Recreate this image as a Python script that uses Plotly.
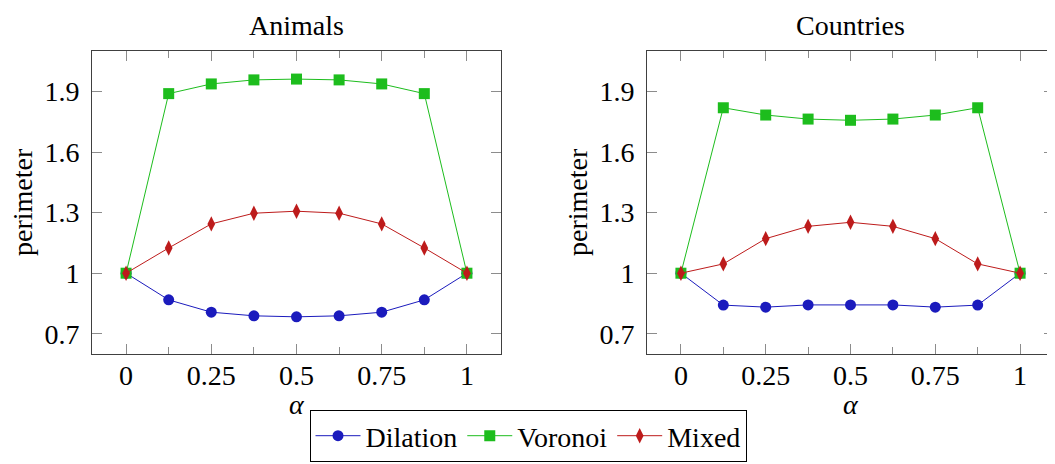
import plotly.graph_objects as go

alpha = [0, 0.125, 0.25, 0.375, 0.5, 0.625, 0.75, 0.875, 1]

animals_dilation = [1.0, 0.868, 0.807, 0.789, 0.784, 0.789, 0.807, 0.868, 1.0]
animals_voronoi = [1.0, 1.889, 1.937, 1.957, 1.961, 1.957, 1.937, 1.889, 1.0]
animals_mixed = [1.0, 1.125, 1.244, 1.297, 1.307, 1.297, 1.244, 1.125, 1.0]

countries_dilation = [1.0, 0.842, 0.832, 0.843, 0.843, 0.843, 0.832, 0.842, 1.0]
countries_voronoi = [1.0, 1.819, 1.783, 1.763, 1.757, 1.763, 1.783, 1.819, 1.0]
countries_mixed = [1.0, 1.046, 1.171, 1.232, 1.252, 1.232, 1.171, 1.046, 1.0]

x_ticks = [0, 0.25, 0.5, 0.75, 1]
x_tick_labels = ["0", "0.25", "0.5", "0.75", "1"]
y_ticks = [0.7, 1.0, 1.3, 1.6, 1.9]
y_tick_labels = ["0.7", "1", "1.3", "1.6", "1.9"]

panel_titles = ["Animals", "Countries"]
series_names = ["Dilation", "Voronoi", "Mixed"]

BLUE = "#1b1bbd"
GREEN = "#1dbd1d"
RED = "#bd1b1b"
FONT = "Liberation Serif, Times New Roman, serif"
FS = 28

# page body has an 8px margin; the figure is placed at (8, 8)
OFF = 8
W, H = 1055 - OFF, 464 - OFF

fig = go.Figure()

styles = [
    dict(color=BLUE, symbol="circle", size=11),
    dict(color=GREEN, symbol="square", size=11),
    dict(color=RED, symbol="diamond-tall", size=11),
]

panels = [
    (animals_dilation, animals_voronoi, animals_mixed),
    (countries_dilation, countries_voronoi, countries_mixed),
]

for pi, series in enumerate(panels):
    xa = "x" if pi == 0 else "x2"
    ya = "y" if pi == 0 else "y2"
    for si, vals in enumerate(series):
        st = styles[si]
        fig.add_trace(go.Scatter(
            x=alpha, y=vals, mode="lines+markers",
            name=series_names[si],
            showlegend=(pi == 0),
            line=dict(color=st["color"], width=1),
            marker=dict(color=st["color"], symbol=st["symbol"], size=st["size"],
                        line=dict(width=0)),
            xaxis=xa, yaxis=ya,
        ))

def px_x(p):
    return (p - OFF) / W

def px_y(p):
    return 1 - (p - OFF) / H

x_domains = [[px_x(92), px_x(501)], [px_x(647), px_x(1054)]]
y_domain = [px_y(354), px_y(51)]

axis_common = dict(
    showgrid=False, zeroline=False, showline=True, linecolor="#404040", linewidth=1,
    mirror="ticks", ticks="inside", tickcolor="#8c8c8c", tickwidth=1,
    tickfont=dict(family=FONT, size=FS, color="black"),
)

for i in range(2):
    sfx = "" if i == 0 else "2"
    fig.update_layout(**{
        "xaxis" + sfx: dict(
            domain=x_domains[i], range=[-0.1, 1.1], tickvals=x_ticks, ticktext=x_tick_labels,
            ticklen=10, anchor="y" + sfx, ticklabelstandoff=-4,
            minor=dict(tickvals=alpha, ticklen=7, ticks="inside", tickcolor="#8c8c8c"),
            **axis_common),
        "yaxis" + sfx: dict(
            domain=y_domain, range=[0.6, 2.1], tickvals=y_ticks, ticktext=y_tick_labels,
            ticklen=10, anchor="x" + sfx, ticklabelstandoff=6,
            **axis_common),
    })

annotations = []
centers = [(92 + 501) / 2, (647 + 1054) / 2]
ylab_x = [22, 577]
for i in range(2):
    annotations.append(dict(text=panel_titles[i], x=px_x(centers[i]), y=1,
                            xref="paper", yref="paper", showarrow=False,
                            xanchor="center", yanchor="top",
                            font=dict(family=FONT, size=FS, color="black")))
    annotations.append(dict(text="<i>α</i>", x=px_x(centers[i]), y=px_y(404),
                            xref="paper", yref="paper", showarrow=False,
                            xanchor="center", yanchor="middle",
                            font=dict(family=FONT, size=FS, color="black")))
    annotations.append(dict(text="perimeter", x=px_x(ylab_x[i]), y=px_y(202),
                            xref="paper", yref="paper", showarrow=False, textangle=-90,
                            xanchor="center", yanchor="middle",
                            font=dict(family=FONT, size=FS, color="black")))

fig.update_layout(
    width=W, height=H,
    margin=dict(l=0, r=0, t=0, b=0),
    font=dict(family=FONT, size=FS, color="black"),
    paper_bgcolor="white", plot_bgcolor="white",
    annotations=annotations,
    legend=dict(orientation="h", x=px_x(528), xanchor="center", y=px_y(462), yanchor="bottom",
                bordercolor="black", borderwidth=1, bgcolor="white",
                font=dict(family=FONT, size=FS, color="black"),
                itemwidth=45, tracegroupgap=0),
    showlegend=True,
)

fig.write_html("out.html")
